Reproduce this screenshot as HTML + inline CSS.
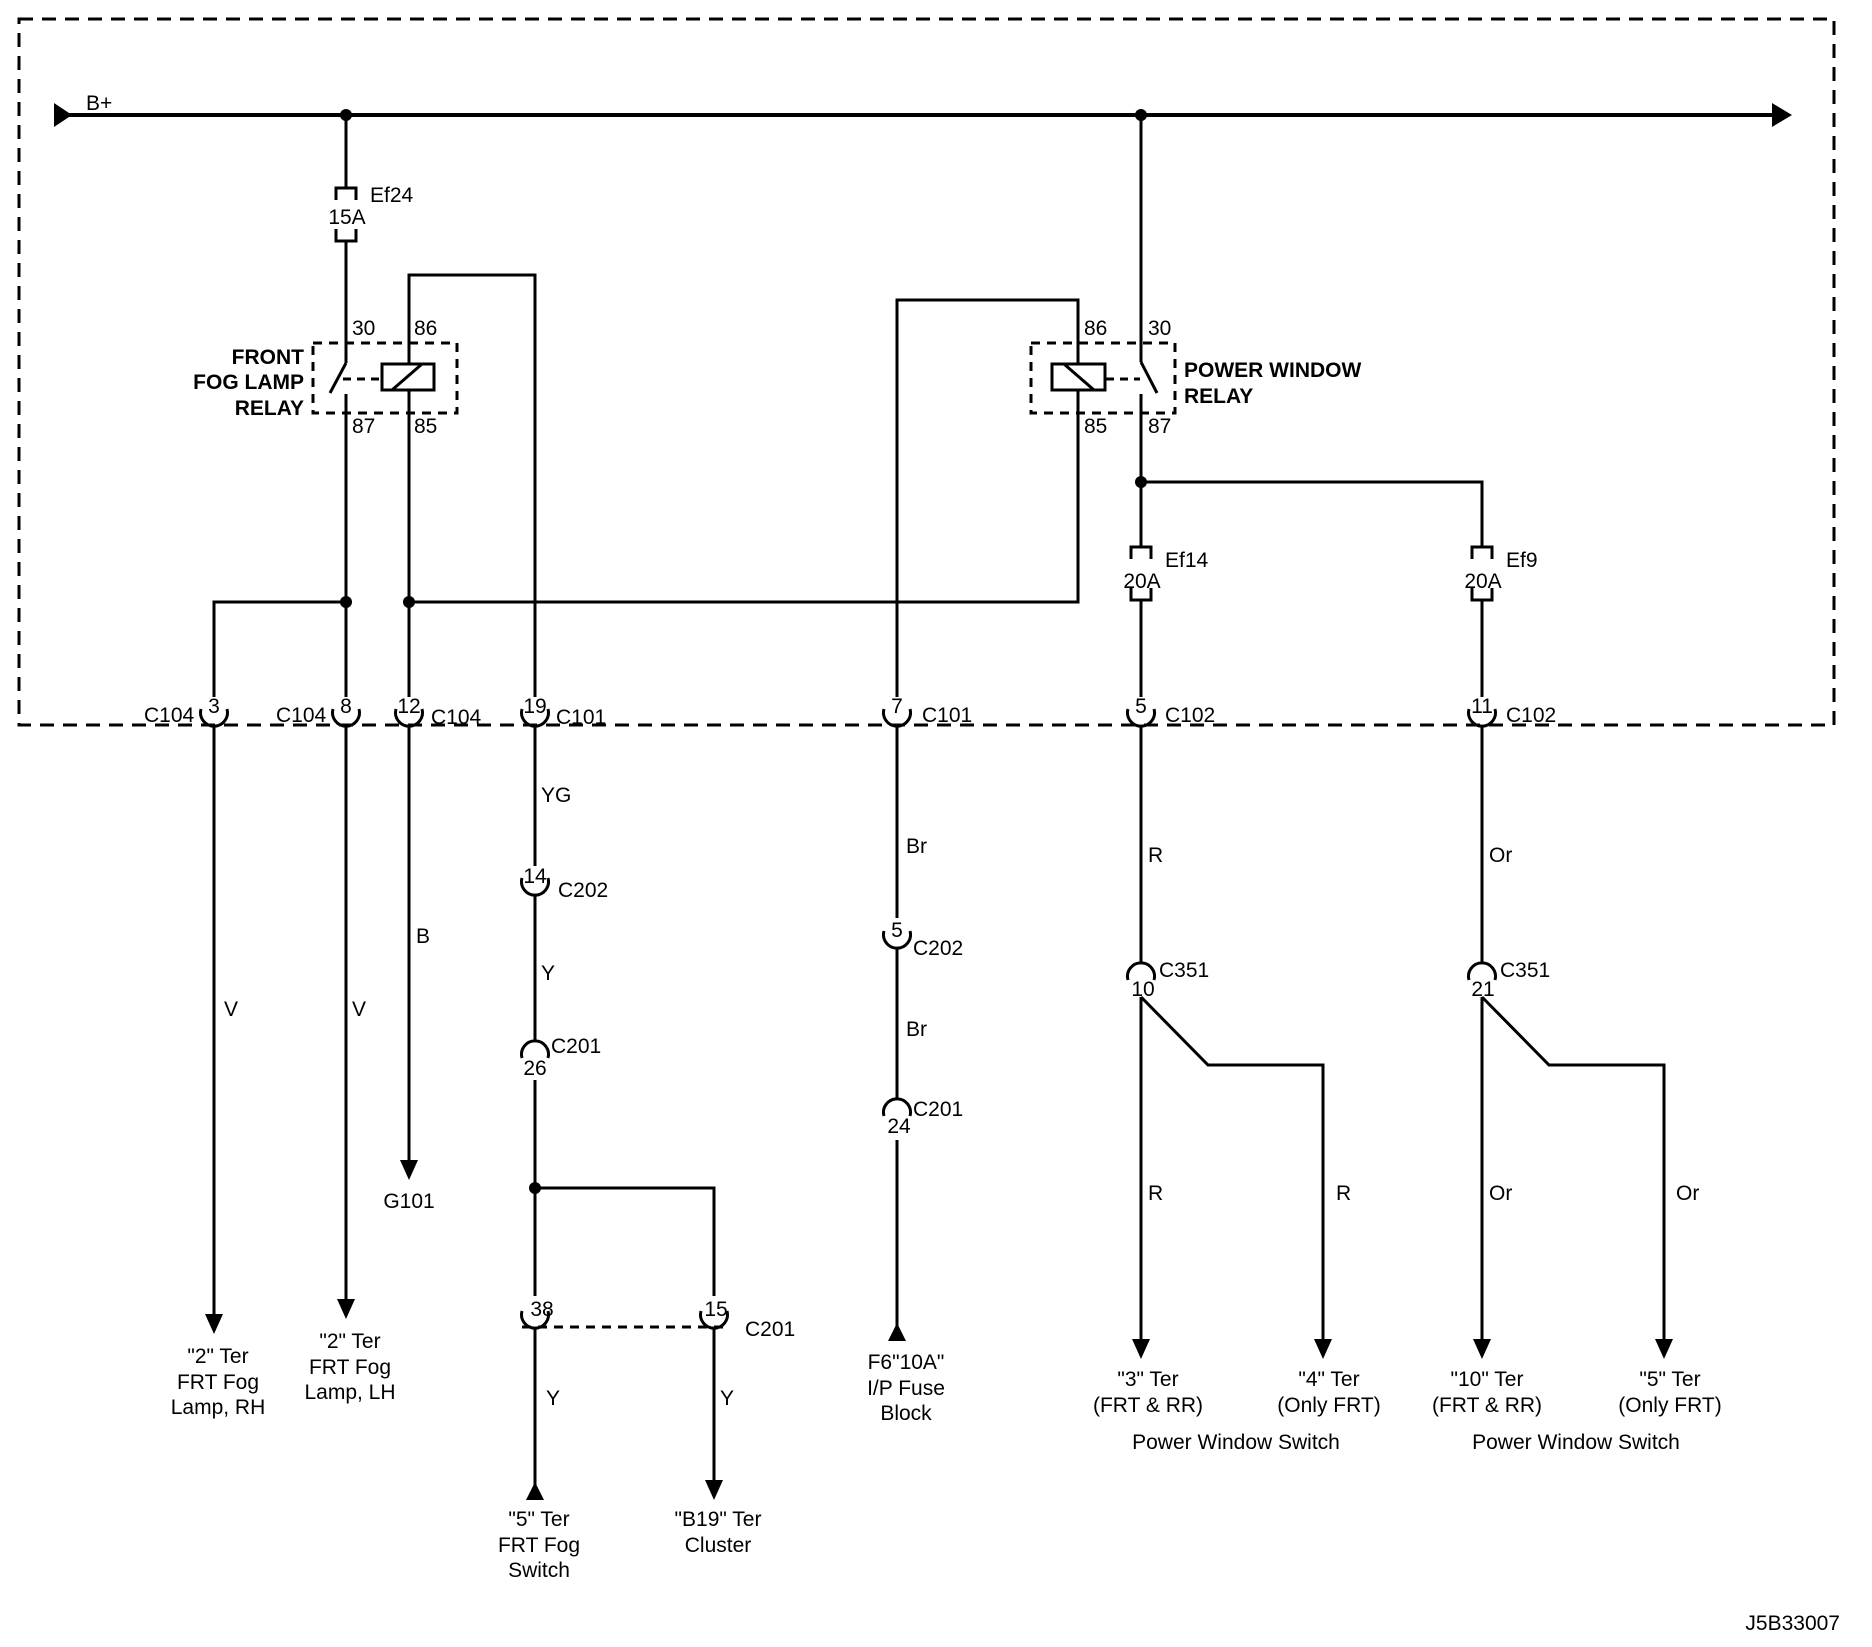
<!DOCTYPE html>
<html><head><meta charset="utf-8"><style>
html,body{margin:0;padding:0;background:#fff;}
svg{display:block;}
text{font-family:"Liberation Sans",Arial,sans-serif;font-size:21px;fill:#000;}
.b{font-weight:bold;}
</style></head><body>
<svg width="1872" height="1647" viewBox="0 0 1872 1647" xmlns="http://www.w3.org/2000/svg">
<g fill="none" stroke="#000">
<rect x="19" y="19" width="1815" height="706" stroke-width="3" stroke-dasharray="14,9"/>
<line x1="60" y1="115" x2="1780" y2="115" stroke-width="4"/>
<g stroke-width="3">
<line x1="346" y1="115" x2="346" y2="188"/>
<line x1="346" y1="241" x2="346" y2="363"/>
<line x1="346" y1="363" x2="330" y2="393"/>
<line x1="346" y1="394" x2="346" y2="697"/>
<polyline points="535,697 535,275 409,275 409,364"/>
<line x1="409" y1="390" x2="409" y2="697"/>
<polyline points="214,697 214,602 346,602"/>
<polyline points="409,602 1078,602 1078,390"/>
<polyline points="897,697 897,300 1078,300 1078,364"/>
<line x1="1141" y1="115" x2="1141" y2="362"/>
<line x1="1141" y1="362" x2="1157" y2="393"/>
<line x1="1141" y1="394" x2="1141" y2="547"/>
<line x1="1141" y1="600" x2="1141" y2="697"/>
<polyline points="1141,482 1482,482 1482,547"/>
<line x1="1482" y1="600" x2="1482" y2="697"/>
<!-- fuses -->
<path d="M336,200 V188 H356 V200 M336,229 V241 H356 V229"/>
<path d="M1131,559 V547 H1151 V559 M1131,588 V600 H1151 V588"/>
<path d="M1472,559 V547 H1492 V559 M1472,588 V600 H1492 V588"/>
</g>
<rect x="313" y="343" width="144" height="70" stroke-width="3" stroke-dasharray="9,7"/>
<rect x="1031" y="343" width="144" height="70" stroke-width="3" stroke-dasharray="9,7"/>
<line x1="343" y1="379" x2="381" y2="379" stroke-width="3" stroke-dasharray="8,6"/>
<line x1="1106" y1="379" x2="1140" y2="379" stroke-width="3" stroke-dasharray="8,6"/>
<rect x="382" y="364" width="52" height="26" stroke-width="3" fill="#fff"/>
<line x1="392" y1="390" x2="422" y2="364" stroke-width="3"/>
<rect x="1052" y="364" width="53" height="26" stroke-width="3" fill="#fff"/>
<line x1="1064" y1="364" x2="1094" y2="390" stroke-width="3"/>

<g stroke-width="3">
<line x1="214" y1="725" x2="214" y2="1320"/>
<line x1="346" y1="725" x2="346" y2="1305"/>
<line x1="409" y1="725" x2="409" y2="1165"/>
<line x1="535" y1="725" x2="535" y2="866"/>
<line x1="535" y1="895" x2="535" y2="1042"/>
<line x1="535" y1="1080" x2="535" y2="1296"/>
<polyline points="535,1188 714,1188 714,1296"/>
<line x1="535" y1="1327" x2="535" y2="1490"/>
<line x1="714" y1="1327" x2="714" y2="1485"/>
<line x1="897" y1="725" x2="897" y2="918"/>
<line x1="897" y1="947" x2="897" y2="1100"/>
<line x1="897" y1="1140" x2="897" y2="1330"/>
<line x1="1141" y1="725" x2="1141" y2="964"/>
<line x1="1141" y1="997" x2="1141" y2="1345"/>
<polyline points="1141,997 1208,1065 1323,1065 1323,1345"/>
<line x1="1482" y1="725" x2="1482" y2="964"/>
<line x1="1482" y1="997" x2="1482" y2="1345"/>
<polyline points="1482,997 1549,1065 1664,1065 1664,1345"/>
</g>
<line x1="522" y1="1327" x2="727" y2="1327" stroke-width="3" stroke-dasharray="9,7"/>

<g stroke-width="3">
<path d="M201,709 A13.5 13.5 0 1 0 227,709"/>
<path d="M333,709 A13.5 13.5 0 1 0 359,709"/>
<path d="M396,709 A13.5 13.5 0 1 0 422,709"/>
<path d="M522,709 A13.5 13.5 0 1 0 548,709"/>
<path d="M884,709 A13.5 13.5 0 1 0 910,709"/>
<path d="M1128,709 A13.5 13.5 0 1 0 1154,709"/>
<path d="M1469,709 A13.5 13.5 0 1 0 1495,709"/>
<path d="M522,878 A13.5 13.5 0 1 0 548,878"/>
<path d="M884,931 A13.5 13.5 0 1 0 910,931"/>
<path d="M522,1311 A13.5 13.5 0 1 0 548,1311"/>
<path d="M701,1311 A13.5 13.5 0 1 0 727,1311"/>
<path d="M522,1058 A13.5 13.5 0 1 1 548,1058"/>
<path d="M884,1116 A13.5 13.5 0 1 1 910,1116"/>
<path d="M1128,980 A13.5 13.5 0 1 1 1154,980"/>
<path d="M1469,980 A13.5 13.5 0 1 1 1495,980"/>
</g>
</g>
<g fill="#000">
<circle cx="346" cy="115" r="6"/><circle cx="1141" cy="115" r="6"/>
<circle cx="346" cy="602" r="6"/><circle cx="409" cy="602" r="6"/>
<circle cx="1141" cy="482" r="6"/><circle cx="535" cy="1188" r="6"/>
<polygon points="54,103 54,127 72,115"/>
<polygon points="1772,103 1772,127 1792,115"/>
<polygon points="205,1314 223,1314 214,1334"/>
<polygon points="337,1299 355,1299 346,1319"/>
<polygon points="400,1160 418,1160 409,1180"/>
<polygon points="526,1500 544,1500 535,1482"/>
<polygon points="705,1480 723,1480 714,1500"/>
<polygon points="888,1341 906,1341 897,1323"/>
<polygon points="1132,1339 1150,1339 1141,1359"/>
<polygon points="1314,1339 1332,1339 1323,1359"/>
<polygon points="1473,1339 1491,1339 1482,1359"/>
<polygon points="1655,1339 1673,1339 1664,1359"/>
</g>

<text x="86" y="110">B+</text>
<text x="370" y="202">Ef24</text>
<text x="347" y="224" text-anchor="middle">15A</text>
<text x="1165" y="567">Ef14</text>
<text x="1142" y="588" text-anchor="middle">20A</text>
<text x="1506" y="567">Ef9</text>
<text x="1483" y="588" text-anchor="middle">20A</text>
<text x="352" y="335">30</text><text x="414" y="335">86</text>
<text x="352" y="433">87</text><text x="414" y="433">85</text>
<text x="1084" y="335">86</text><text x="1148" y="335">30</text>
<text x="1084" y="433">85</text><text x="1148" y="433">87</text>
<text class="b" x="304" y="364" text-anchor="end">FRONT</text>
<text class="b" x="304" y="389" text-anchor="end">FOG LAMP</text>
<text class="b" x="304" y="415" text-anchor="end">RELAY</text>
<text class="b" x="1184" y="377">POWER WINDOW</text>
<text class="b" x="1184" y="403">RELAY</text>

<g text-anchor="middle">
<text x="214" y="713">3</text><text x="346" y="713">8</text><text x="409" y="713">12</text>
<text x="535" y="713">19</text><text x="897" y="713">7</text><text x="1141" y="713">5</text>
<text x="1482" y="713">11</text>
<text x="535" y="883">14</text><text x="897" y="937">5</text>
<text x="535" y="1075">26</text><text x="899" y="1133">24</text>
<text x="1143" y="996">10</text><text x="1483" y="996">21</text>
<text x="542" y="1316">38</text><text x="716" y="1316">15</text>
</g>
<text x="144" y="722">C104</text>
<text x="276" y="722">C104</text>
<text x="431" y="724">C104</text>
<text x="556" y="724">C101</text>
<text x="922" y="722">C101</text>
<text x="1165" y="722">C102</text>
<text x="1506" y="722">C102</text>
<text x="558" y="897">C202</text>
<text x="551" y="1053">C201</text>
<text x="913" y="955">C202</text>
<text x="913" y="1116">C201</text>
<text x="1159" y="977">C351</text>
<text x="1500" y="977">C351</text>
<text x="745" y="1336">C201</text>

<text x="224" y="1016">V</text><text x="352" y="1016">V</text>
<text x="416" y="943">B</text>
<text x="541" y="802">YG</text><text x="541" y="980">Y</text>
<text x="546" y="1405">Y</text><text x="720" y="1405">Y</text>
<text x="906" y="853">Br</text><text x="906" y="1036">Br</text>
<text x="1148" y="862">R</text><text x="1148" y="1200">R</text><text x="1336" y="1200">R</text>
<text x="1489" y="862">Or</text><text x="1489" y="1200">Or</text><text x="1676" y="1200">Or</text>

<g text-anchor="middle">
<text x="409" y="1208">G101</text>
<text x="218" y="1363">"2" Ter</text><text x="218" y="1389">FRT Fog</text><text x="218" y="1414">Lamp, RH</text>
<text x="350" y="1348">"2" Ter</text><text x="350" y="1374">FRT Fog</text><text x="350" y="1399">Lamp, LH</text>
<text x="539" y="1526">"5" Ter</text><text x="539" y="1552">FRT Fog</text><text x="539" y="1577">Switch</text>
<text x="718" y="1526">"B19" Ter</text><text x="718" y="1552">Cluster</text>
<text x="906" y="1369">F6"10A"</text><text x="906" y="1395">I/P Fuse</text><text x="906" y="1420">Block</text>
<text x="1148" y="1386">"3" Ter</text><text x="1148" y="1412">(FRT &amp; RR)</text>
<text x="1329" y="1386">"4" Ter</text><text x="1329" y="1412">(Only FRT)</text>
<text x="1236" y="1449">Power Window Switch</text>
<text x="1487" y="1386">"10" Ter</text><text x="1487" y="1412">(FRT &amp; RR)</text>
<text x="1670" y="1386">"5" Ter</text><text x="1670" y="1412">(Only FRT)</text>
<text x="1576" y="1449">Power Window Switch</text>
</g>
<text x="1840" y="1630" text-anchor="end">J5B33007</text>
</svg>
</body></html>
